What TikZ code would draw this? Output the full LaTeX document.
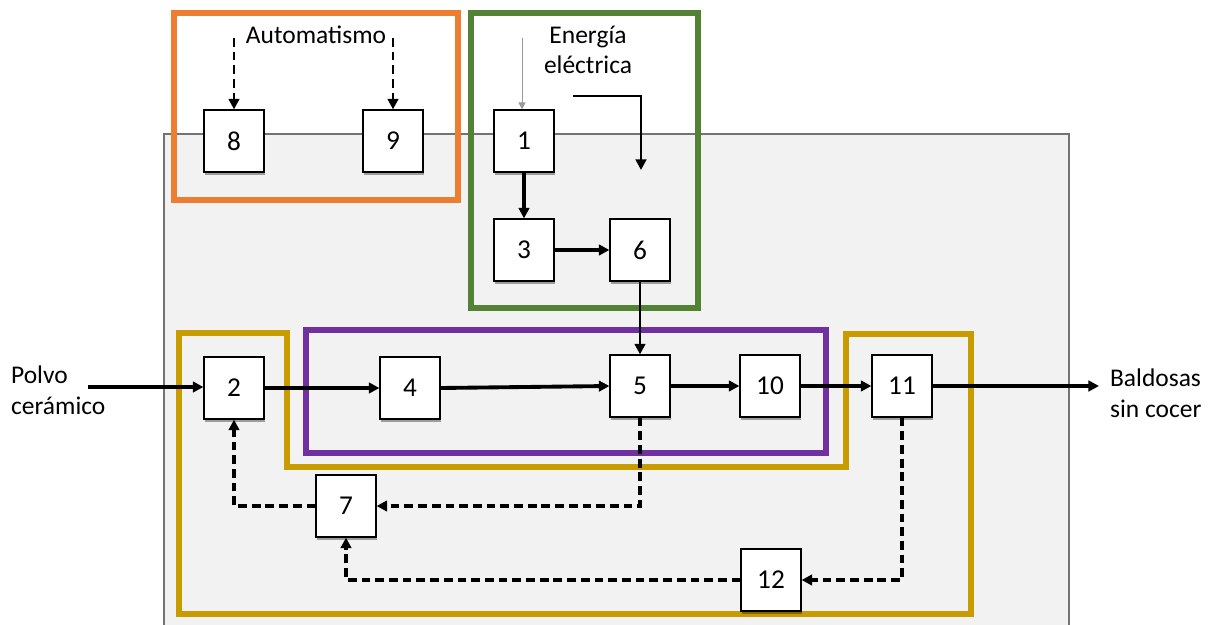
\documentclass[tikz,border=0pt]{standalone}
\usepackage{fontspec}
\setmainfont{Carlito}
\usetikzlibrary{arrows.meta,shadows}
\definecolor{frameorange}{RGB}{237,125,49}
\definecolor{framegreen}{RGB}{84,130,53}
\definecolor{framepurple}{RGB}{112,48,160}
\definecolor{framegold}{RGB}{200,155,0}
\definecolor{bggray}{RGB}{242,242,242}
\tikzset{
	blk/.style={draw, fill=white, line width=0.7pt, minimum width=1.2cm, minimum height=1.24cm,
		font=\fontsize{15.5}{18}\selectfont,
		drop shadow={shadow xshift=0.6pt, shadow yshift=-1.6pt, opacity=0.35, fill=black}},
	lbl/.style={font=\fontsize{14.5}{17.5}\selectfont, align=left, inner sep=1pt},
	flow/.style={-{Triangle[length=6pt,width=6pt]}, line width=2.2pt},
	ctrl/.style={-{Triangle[length=6pt,width=6pt]}, line width=2pt, dash pattern=on 5pt off 2.8pt},
	frame/.style={line width=3.3pt}
}
\begin{document}
\begin{tikzpicture}[x=0.02cm, y=-0.02cm]
	\useasboundingbox (0,0) rectangle (1211,625);
	% background block
	\filldraw[fill=bggray, draw=black!55, line width=0.6pt] (164,640) rectangle (1069,134);
	% groups
	\draw[frame, frameorange] (174,13) rectangle (458,200);
	\draw[frame, framegreen] (471,13) rectangle (698,308);
	\draw[frame, framepurple] (306,330) rectangle (826,453);
	\draw[frame, framegold] (179,333) -- (287,333) -- (287,467) -- (846,467) -- (846,334)
		-- (971,334) -- (971,614) -- (179,614) -- cycle;
	% labels
	\node[lbl] (auto) at (316,35) {Automatismo};
	\node[lbl, align=center] (elec) at (588,50) {Energía\\eléctrica};
	\node[lbl, anchor=west] (polvo) at (9,390) {Polvo\\cerámico};
	\node[lbl, anchor=west] (bald) at (1108,393) {Baldosas\\sin cocer};
	\coordinate (a8) at (234,38);
	\coordinate (a9) at (393,38);
	\coordinate (e1) at (522,38);
	\coordinate (w1) at (573,96);
	\coordinate (w2) at (641,170);
	\coordinate (in) at (88,387);
	\coordinate (out) at (1099,386);
	% blocks
	\node[blk] (n8) at (234,141) {8};
	\node[blk] (n9) at (393,141) {9};
	\node[blk] (n1) at (524,141) {1};
	\node[blk] (n3) at (524,250) {3};
	\node[blk] (n6) at (640,250) {6};
	\node[blk] (n2) at (234,388) {2};
	\node[blk] (n4) at (410,388) {4};
	\node[blk] (n5) at (640,386) {5};
	\node[blk] (n10) at (770,386) {10};
	\node[blk] (n11) at (902,386) {11};
	\node[blk] (n7) at (346,506) {7};
	\node[blk] (n12) at (771,580) {12};
	% connections
	\draw[ctrl, line width=1.6pt] (a8) -- (n8.north);
	\draw[ctrl, line width=1.6pt] (a9) -- (n9.north);
	\draw[-{Triangle[length=4pt,width=4pt]}, black!40, line width=0.5pt] (e1) -- (n1.north -| e1);
	\draw[-{Triangle[length=6pt,width=6pt]}, line width=1.5pt] (w1) -| (w2);
	\draw[flow] (n1) -- (n3);
	\draw[flow] (n3) -- (n6);
	\draw[flow, line width=1.6pt] (n6) -- (n5);
	\draw[flow] (in) -- (n2.west |- in);
	\draw[flow] (n2) -- (n4);
	\draw[flow] (n4.east) -- (n5.west);
	\draw[flow] (n5) -- (n10);
	\draw[flow] (n10) -- (n11);
	\draw[flow] (n11.east) -- (out);
	\draw[ctrl] (n5.south) |- (n7.east);
	\draw[ctrl] (n7.west) -| (n2.south);
	\draw[ctrl] (n11.south) |- (n12.east);
	\draw[ctrl] (n12.west) -| (n7.south);
\end{tikzpicture}
\end{document}
